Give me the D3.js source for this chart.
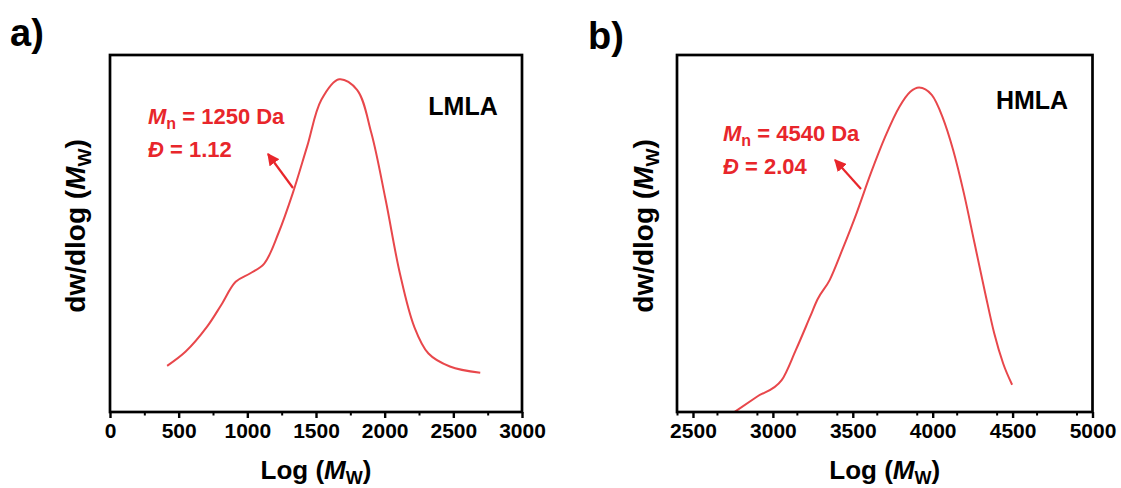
<!DOCTYPE html>
<html>
<head>
<meta charset="utf-8">
<script src="https://cdn.jsdelivr.net/npm/d3@7"></script>
<style>
  html, body { margin: 0; padding: 0; background: #fff; }
  svg { display: block; font-family: "Liberation Sans", Arial, sans-serif; }
</style>
</head>
<body>
<svg id="chart" width="1121" height="488"></svg>
<script>
// GPC molecular weight distributions (normalised dw/dlog Mw)
const lmlaMw  = [416, 551, 707, 811, 915, 1019, 1123, 1227, 1331, 1435, 1539, 1669, 1799, 1903, 2007, 2111, 2215, 2319, 2475, 2696];
const lmlaSig = [0.139, 0.182, 0.257, 0.323, 0.392, 0.417, 0.447, 0.539, 0.659, 0.799, 0.940, 1.002, 0.970, 0.840, 0.639, 0.417, 0.257, 0.176, 0.137, 0.118];

const hmlaMw  = [2760, 2900, 3055, 3144, 3233, 3278, 3356, 3434, 3524, 3613, 3703, 3792, 3860, 3915, 3994, 4061, 4128, 4195, 4262, 4329, 4385, 4441, 4497];
const hmlaSig = [0.000, 0.046, 0.096, 0.187, 0.287, 0.338, 0.398, 0.488, 0.599, 0.719, 0.829, 0.919, 0.964, 0.977, 0.955, 0.889, 0.789, 0.659, 0.508, 0.357, 0.237, 0.146, 0.082];

const lmlaTicks = [0, 500, 1000, 1500, 2000, 2500, 3000];
const hmlaTicks = [2500, 3000, 3500, 4000, 4500, 5000];

const panels = [
  { letter: "a)", name: "LMLA", mw: lmlaMw, sig: lmlaSig, domain: [0, 3000], ticks: lmlaTicks,
    x0: 110, x1: 522, mn: "1250", dispersity: "1.12", curve: d3.curveCatmullRom.alpha(0.5),
    letterPos: [10, 46], namePos: [463, 115], textPos: [148, 124], arrow: [[293, 188], [268, 154]], ylabX: 85 },
  { letter: "b)", name: "HMLA", mw: hmlaMw, sig: hmlaSig, domain: [2400, 5000], ticks: hmlaTicks,
    x0: 677, x1: 1092.5, mn: "4540", dispersity: "2.04", curve: d3.curveMonotoneX,
    letterPos: [588, 49], namePos: [1032, 109], textPos: [723, 141], arrow: [[861, 189], [835, 160]], ylabX: 653 }
];

const plotTop = 55, plotBottom = 412;
const red = "#e8262b";
const lineRed = "#e8474b";
const svg = d3.select("#chart");

const defs = svg.append("defs");
defs.append("marker")
  .attr("id", "head")
  .attr("viewBox", "0 0 10 10")
  .attr("refX", 9).attr("refY", 5)
  .attr("markerWidth", 5.5).attr("markerHeight", 5.5)
  .attr("orient", "auto")
  .append("path")
  .attr("d", "M0,0 L10,5 L0,10 z")
  .attr("fill", red);

panels.forEach((p, i) => {
  const x = d3.scaleLinear().domain(p.domain).range([p.x0, p.x1]);
  const y = d3.scaleLinear().domain([0, 1.075]).range([plotBottom, plotTop]);
  const g = svg.append("g");

  defs.append("clipPath").attr("id", "clip" + i)
    .append("rect").attr("x", p.x0).attr("y", plotTop).attr("width", p.x1 - p.x0).attr("height", plotBottom - plotTop);

  // curve
  const pts = p.mw.map((m, k) => [m, p.sig[k]]);
  g.append("path")
    .attr("clip-path", `url(#clip${i})`)
    .attr("d", d3.line().x(d => x(d[0])).y(d => y(d[1])).curve(p.curve)(pts))
    .attr("fill", "none")
    .attr("stroke", lineRed)
    .attr("stroke-width", 2);

  // minor ticks
  const minor = d3.range(p.domain[0], p.domain[1] + 1, 250).filter(v => v % 500 !== 0);
  g.append("g").attr("transform", `translate(0,${plotBottom})`)
    .call(d3.axisBottom(x).tickValues(minor).tickSize(3.5).tickFormat(""))
    .call(a => a.select(".domain").remove())
    .selectAll("line").attr("stroke", "#000").attr("stroke-width", 2);

  // major ticks with labels
  const ax = g.append("g").attr("transform", `translate(0,${plotBottom})`)
    .call(d3.axisBottom(x).tickValues(p.ticks).tickSize(6).tickPadding(5).tickFormat(d3.format("d")));
  ax.select(".domain").remove();
  ax.selectAll("line").attr("stroke", "#000").attr("stroke-width", 2.4);
  ax.selectAll("text")
    .attr("font-size", 21).attr("font-weight", "bold").attr("fill", "#000")
    .attr("font-family", "Liberation Sans, Arial, sans-serif");

  // frame
  g.append("rect")
    .attr("x", p.x0).attr("y", plotTop)
    .attr("width", p.x1 - p.x0).attr("height", plotBottom - plotTop)
    .attr("fill", "none").attr("stroke", "#000").attr("stroke-width", 2.7);

  // panel letter
  g.append("text").attr("x", p.letterPos[0]).attr("y", p.letterPos[1])
    .attr("font-size", 38).attr("font-weight", "bold").text(p.letter);

  // x title
  const xt = g.append("text")
    .attr("x", (p.x0 + p.x1) / 2).attr("y", 479)
    .attr("text-anchor", "middle").attr("font-size", 26).attr("font-weight", "bold");
  xt.append("tspan").text("Log (");
  xt.append("tspan").attr("font-style", "italic").text("M");
  xt.append("tspan").attr("font-size", 18).attr("dy", 5).text("W");
  xt.append("tspan").attr("dy", -5).text(")");

  // y title
  const yt = g.append("text")
    .attr("transform", `translate(${p.ylabX},226) rotate(-90)`)
    .attr("text-anchor", "middle").attr("font-size", 28).attr("font-weight", "bold");
  yt.append("tspan").text("dw/dlog (");
  yt.append("tspan").attr("font-style", "italic").text("M");
  yt.append("tspan").attr("font-size", 19).attr("dy", 6).text("W");
  yt.append("tspan").attr("dy", -6).text(")");

  // sample name
  g.append("text").attr("x", p.namePos[0]).attr("y", p.namePos[1])
    .attr("text-anchor", "middle").attr("font-size", 25).attr("font-weight", "bold").text(p.name);

  // Mn / dispersity annotation
  const t1 = g.append("text").attr("x", p.textPos[0]).attr("y", p.textPos[1])
    .attr("font-size", 22).attr("font-weight", "bold").attr("fill", red);
  t1.append("tspan").attr("font-style", "italic").text("M");
  t1.append("tspan").attr("font-size", 16).attr("dy", 5).text("n");
  t1.append("tspan").attr("dy", -5).text(` = ${p.mn} Da`);

  const t2 = g.append("text").attr("x", p.textPos[0]).attr("y", p.textPos[1] + 33)
    .attr("font-size", 22).attr("font-weight", "bold").attr("fill", red);
  t2.append("tspan").attr("font-style", "italic").text("Đ");
  t2.append("tspan").text(` = ${p.dispersity}`);

  g.append("line")
    .attr("x1", p.arrow[0][0]).attr("y1", p.arrow[0][1])
    .attr("x2", p.arrow[1][0]).attr("y2", p.arrow[1][1])
    .attr("stroke", red).attr("stroke-width", 2.2)
    .attr("marker-end", "url(#head)");
});
</script>
</body>
</html>
